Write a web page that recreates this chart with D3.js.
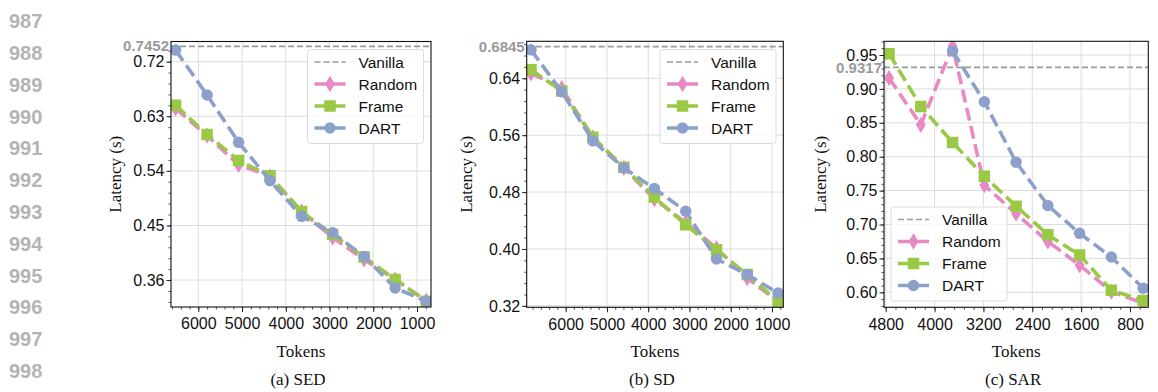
<!DOCTYPE html>
<html><head><meta charset="utf-8">
<script src="https://cdn.jsdelivr.net/npm/d3@7/dist/d3.min.js"></script>
<style>body{margin:0;background:#fff} svg{display:block}</style>
</head><body>
<svg id="c" width="1158" height="392"></svg>
<script>
// ---------- data ----------
const lineNumbers = [987, 988, 989, 990, 991, 992, 993, 994, 995, 996, 997, 998];
const seriesNames = ["Vanilla", "Random", "Frame", "DART"];

// (a) SED
const tokensA = [6520, 5800, 5080, 4360, 3640, 2930, 2210, 1500, 790];
const randomA = [0.643, 0.598, 0.550, 0.531, 0.473, 0.430, 0.394, 0.361, 0.326];
const frameA  = [0.648, 0.600, 0.557, 0.532, 0.473, 0.435, 0.398, 0.361, 0.325];
const dartA   = [0.739, 0.665, 0.587, 0.524, 0.465, 0.438, 0.399, 0.347, 0.325];
const vanillaA = 0.7452;
const xTicksA = [6000, 5000, 4000, 3000, 2000, 1000];
const yTicksA = [0.36, 0.45, 0.54, 0.63, 0.72];

// (b) SD
const tokensB = [6840, 6095, 5340, 4590, 3850, 3090, 2345, 1600, 850];
const randomB = [0.647, 0.626, 0.557, 0.514, 0.470, 0.437, 0.401, 0.359, 0.326];
const frameB  = [0.652, 0.622, 0.557, 0.515, 0.473, 0.434, 0.399, 0.364, 0.326];
const dartB   = [0.680, 0.621, 0.552, 0.514, 0.485, 0.453, 0.386, 0.364, 0.338];
const vanillaB = 0.6845;
const xTicksB = [6000, 5000, 4000, 3000, 2000, 1000];
const yTicksB = [0.32, 0.40, 0.48, 0.56, 0.64];

// (c) SAR
const tokensC = [4745, 4225, 3705, 3185, 2665, 2145, 1625, 1105, 585];
const randomC = [0.916, 0.847, 0.963, 0.758, 0.716, 0.675, 0.640, 0.601, 0.584];
const frameC  = [0.952, 0.874, 0.821, 0.771, 0.727, 0.685, 0.655, 0.603, 0.588];
const tokensDartC = [3705, 3185, 2665, 2145, 1625, 1105, 585];
const dartC   = [0.956, 0.881, 0.792, 0.728, 0.687, 0.652, 0.606];
const vanillaC = 0.9317;
const xTicksC = [4800, 4000, 3200, 2400, 1600, 800];
const yTicksC = [0.60, 0.65, 0.70, 0.75, 0.80, 0.85, 0.90, 0.95];

const captions = ["(a) SED", "(b) SD", "(c) SAR"];

// ---------- styles ----------
const COLORS = {Vanilla: "#9a9a9a", Random: "#e78ac3", Frame: "#99c945", DART: "#8da0cb"};
const SANS = "'Liberation Sans', Arial, Helvetica, sans-serif";
const SERIF = "'Liberation Serif', 'Times New Roman', serif";
const MS = 11.5;
const TICK_FS = 16;

const svg = d3.select("#c");

// line numbers in the margin
svg.selectAll("text.ln").data(lineNumbers).join("text")
  .attr("class", "ln")
  .attr("x", 9)
  .attr("y", (d, i) => 21 + i * 31.8)
  .attr("dy", "0.36em")
  .attr("font-family", SANS)
  .attr("font-weight", "bold")
  .attr("font-size", 20)
  .attr("fill", "#b4b4b4")
  .text(d => d);

function markerPath(kind) {
  if (kind === "Random") {
    const h = MS * Math.SQRT2 / 2, w = 0.6 * h;
    return `M0,${-h}L${w},0L0,${h}L${-w},0Z`;
  }
  if (kind === "Frame") {
    const s = MS / 2;
    return `M${-s},${-s}H${s}V${s}H${-s}Z`;
  }
  return d3.symbol(d3.symbolCircle, Math.PI * (MS / 2) * (MS / 2))();
}

function panel(cfg, idx) {
  const {L, R, T, B} = cfg;
  const x = d3.scaleLinear().domain(cfg.xDomain).range([L, R]);
  const y = d3.scaleLinear().domain(cfg.yDomain).range([B, T]);
  const g = svg.append("g");

  const clipId = "clip" + idx;
  svg.append("clipPath").attr("id", clipId)
    .append("rect").attr("x", L).attr("y", T).attr("width", R - L).attr("height", B - T);

  // grid
  g.append("g").selectAll("line").data(cfg.xTicks).join("line")
    .attr("x1", d => x(d)).attr("x2", d => x(d)).attr("y1", T).attr("y2", B)
    .attr("stroke", "#dddddd").attr("stroke-width", 1);
  g.append("g").selectAll("line").data(cfg.yTicks).join("line")
    .attr("y1", d => y(d)).attr("y2", d => y(d)).attr("x1", L).attr("x2", R)
    .attr("stroke", "#dddddd").attr("stroke-width", 1);

  // minor ticks
  const xd = cfg.xDomain, yd = cfg.yDomain;
  const xMinor = d3.range(Math.ceil(Math.min(...xd) / cfg.xMinor) * cfg.xMinor, Math.max(...xd), cfg.xMinor);
  const yMinor = d3.range(Math.ceil(yd[0] / cfg.yMinor - 1e-6) * cfg.yMinor, yd[1], cfg.yMinor);
  g.append("g").attr("transform", `translate(0,${B})`)
    .call(d3.axisBottom(x).tickValues(xMinor).tickSize(2.5).tickFormat(""))
    .call(a => a.select(".domain").remove())
    .call(a => a.selectAll("line").attr("stroke", "#222").attr("stroke-width", 0.8));
  g.append("g").attr("transform", `translate(${L},0)`)
    .call(d3.axisLeft(y).tickValues(yMinor).tickSize(2.5).tickFormat(""))
    .call(a => a.select(".domain").remove())
    .call(a => a.selectAll("line").attr("stroke", "#222").attr("stroke-width", 0.8));

  // major axes
  g.append("g").attr("transform", `translate(0,${B})`)
    .call(d3.axisBottom(x).tickValues(cfg.xTicks).tickSize(5).tickPadding(6).tickFormat(d3.format("d")))
    .call(a => a.select(".domain").remove())
    .call(a => a.selectAll("line").attr("stroke", "#222").attr("stroke-width", 1))
    .call(a => a.selectAll("text").attr("font-family", SANS).attr("font-size", TICK_FS).attr("fill", "#111"));
  g.append("g").attr("transform", `translate(${L},0)`)
    .call(d3.axisLeft(y).tickValues(cfg.yTicks).tickSize(4.5).tickPadding(2).tickFormat(d3.format(".2f")))
    .call(a => a.select(".domain").remove())
    .call(a => a.selectAll("line").attr("stroke", "#222").attr("stroke-width", 1))
    .call(a => a.selectAll("text").attr("font-family", SANS).attr("font-size", TICK_FS).attr("fill", "#111"));

  // vanilla line
  const plot = g.append("g").attr("clip-path", `url(#${clipId})`);
  plot.append("line")
    .attr("x1", L).attr("x2", R).attr("y1", y(cfg.vanilla)).attr("y2", y(cfg.vanilla))
    .attr("stroke", COLORS.Vanilla).attr("stroke-width", 1.6).attr("stroke-dasharray", "6,3");
  g.append("text")
    .attr("x", L - 2).attr("y", y(cfg.vanilla)).attr("dy", "0.34em")
    .attr("text-anchor", "end")
    .attr("font-family", SANS).attr("font-weight", "bold").attr("font-size", 15)
    .attr("fill", "#9a9a9a")
    .text(d3.format(".4f")(cfg.vanilla));

  // series
  const line = d3.line().x(d => x(d[0])).y(d => y(d[1]));
  cfg.series.forEach(s => {
    const pts = s.tokens.map((t, i) => [t, s.values[i]]);
    plot.append("path").datum(pts)
      .attr("d", line).attr("fill", "none")
      .attr("stroke", COLORS[s.name]).attr("stroke-width", 3.6)
      .attr("stroke-dasharray", "13,5.6");
    plot.append("g").selectAll("path").data(pts).join("path")
      .attr("transform", d => `translate(${x(d[0])},${y(d[1])})`)
      .attr("d", markerPath(s.name))
      .attr("fill", COLORS[s.name]);
  });

  // frame
  g.append("rect").attr("x", L).attr("y", T).attr("width", R - L).attr("height", B - T)
    .attr("fill", "none").attr("stroke", "#111").attr("stroke-width", 1.1);

  // legend
  const lg = g.append("g").attr("transform", `translate(${cfg.legend[0]},${cfg.legend[1]})`);
  lg.append("rect").attr("x", 0).attr("y", 0).attr("width", 116).attr("height", 94)
    .attr("rx", 3).attr("fill", "#fff").attr("fill-opacity", 0.8)
    .attr("stroke", "#dcdcdc").attr("stroke-width", 1);
  seriesNames.forEach((name, i) => {
    const cy = 12.5 + i * 22;
    const e = lg.append("g").attr("transform", `translate(0,${cy})`);
    if (name === "Vanilla") {
      e.append("line").attr("x1", 7).attr("x2", 38).attr("stroke", COLORS.Vanilla)
        .attr("stroke-width", 1.6).attr("stroke-dasharray", "6,3");
    } else {
      e.append("line").attr("x1", 7).attr("x2", 38).attr("stroke", COLORS[name])
        .attr("stroke-width", 3.6).attr("stroke-dasharray", "13,5");
      e.append("path").attr("transform", "translate(22.5,0)").attr("d", markerPath(name))
        .attr("fill", COLORS[name]);
    }
    e.append("text").attr("x", 51).attr("dy", "0.36em")
      .attr("font-family", SANS).attr("font-size", 15.5).attr("fill", "#111").text(name);
  });

  // labels
  const cx = (L + R) / 2;
  g.append("text").attr("x", cx).attr("y", 356.5).attr("text-anchor", "middle")
    .attr("font-family", SERIF).attr("font-size", 17).attr("fill", "#111").text("Tokens");
  g.append("text").attr("x", cx - 3).attr("y", 385).attr("text-anchor", "middle")
    .attr("font-family", SERIF).attr("font-size", 17).attr("fill", "#111").text(captions[idx]);
  g.append("text")
    .attr("transform", `translate(${cfg.ylabelX},${(T + B) / 2}) rotate(-90)`)
    .attr("text-anchor", "middle").attr("dy", "0.32em")
    .attr("font-family", SERIF).attr("font-size", 17).attr("fill", "#111").text("Latency (s)");
}

const panels = [
  {L: 171, R: 431, T: 41.5, B: 307, xDomain: [6625, 680], yDomain: [0.3156, 0.7532],
   xTicks: xTicksA, yTicks: yTicksA, xMinor: 200, yMinor: 0.018, vanilla: vanillaA,
   legend: [307.5, 49.5], ylabelX: 116,
   series: [{name: "Random", tokens: tokensA, values: randomA},
            {name: "Frame", tokens: tokensA, values: frameA},
            {name: "DART", tokens: tokensA, values: dartA}]},
  {L: 526.7, R: 783.3, T: 41.3, B: 307.3, xDomain: [6944, 726], yDomain: [0.318, 0.692],
   xTicks: xTicksB, yTicks: yTicksB, xMinor: 200, yMinor: 0.016, vanilla: vanillaB,
   legend: [660, 49.5], ylabelX: 467,
   series: [{name: "Random", tokens: tokensB, values: randomB},
            {name: "Frame", tokens: tokensB, values: frameB},
            {name: "DART", tokens: tokensB, values: dartB}]},
  {L: 884, R: 1148.3, T: 41.3, B: 307.3, xDomain: [4828, 500], yDomain: [0.5779, 0.9702],
   xTicks: xTicksC, yTicks: yTicksC, xMinor: 160, yMinor: 0.01, vanilla: vanillaC,
   legend: [891, 207], ylabelX: 821,
   series: [{name: "Random", tokens: tokensC, values: randomC},
            {name: "Frame", tokens: tokensC, values: frameC},
            {name: "DART", tokens: tokensDartC, values: dartC}]}
];
panels.forEach((p, i) => panel(p, i));
</script>
</body></html>
